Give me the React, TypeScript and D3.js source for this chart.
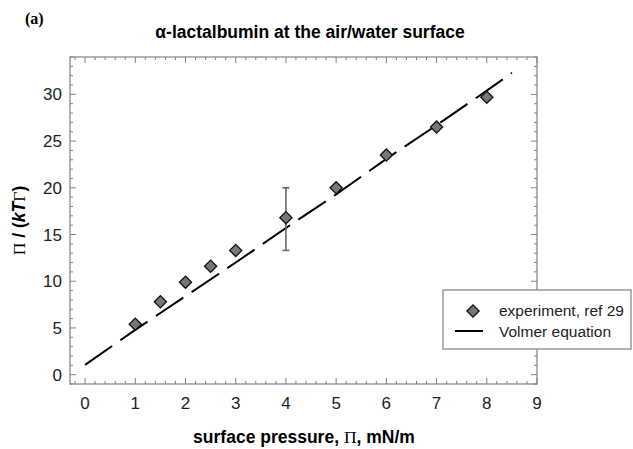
import React from "react";
import * as d3 from "d3";

const expX = [1, 1.5, 2, 2.5, 3, 4, 5, 6, 7, 8];
const expY = [5.4, 7.8, 9.9, 11.6, 13.3, 16.8, 20.0, 23.5, 26.5, 29.7];
const errX = [4];
const errLow = [13.3];
const errHigh = [20.0];
const volX = [0, 1, 2, 3, 4, 5, 6, 7, 8, 8.5];
const volY = [1.05, 4.8, 8.4, 12.0, 15.7, 19.3, 23.1, 26.7, 30.4, 32.3];
const xTicks = [0, 1, 2, 3, 4, 5, 6, 7, 8, 9];
const yTicks = [0, 5, 10, 15, 20, 25, 30];

const W = 633, H = 449;
const L = 70, R = 537, T = 57, B = 384;
const FRAME = "#808080";

export default function App() {
  const x = d3.scaleLinear().domain([-0.3, 9]).range([L, R]);
  const y = d3.scaleLinear().domain([-1, 34]).range([B, T]);

  const xMinor = d3.range(-0.2, 9.001, 0.2).map((v) => Math.round(v * 10) / 10);
  const yMinor = d3.range(-1, 34.001, 1);

  const line = d3
    .line<number>()
    .x((_, i) => x(volX[i]))
    .y((d) => y(d));
  const diamond = d3.symbol(d3.symbolSquare, 74)();

  const isMajorX = (v: number) => Math.abs(v - Math.round(v)) < 1e-6;
  const isMajorY = (v: number) => v % 5 === 0;

  return (
    <svg
      width={W}
      height={H}
      style={{ position: "absolute", left: 0, top: 0, background: "#fff" }}
      fontFamily="'Liberation Sans', Arial, sans-serif"
    >
      <rect x={0} y={0} width={W} height={H} fill="#fff" />
      <text x={25} y={24} fontFamily="'Liberation Serif', serif" fontWeight="bold" fontSize={16}>
        (a)
      </text>
      <text x={310} y={38} textAnchor="middle" fontWeight="bold" fontSize={17.5}>
        α-lactalbumin at the air/water surface
      </text>

      {/* frame */}
      <rect x={L} y={T} width={R - L} height={B - T} fill="none" stroke={FRAME} strokeWidth={1.2} />

      {/* ticks */}
      {xMinor.map((v, i) => {
        const len = isMajorX(v) ? 6 : 3;
        const px = x(v);
        return (
          <g key={"xt" + i} stroke={FRAME} strokeWidth={1}>
            <line x1={px} x2={px} y1={B} y2={B - len} />
            <line x1={px} x2={px} y1={T} y2={T + len} />
          </g>
        );
      })}
      {yMinor.map((v, i) => {
        const len = isMajorY(v) ? 6 : 3;
        const py = y(v);
        return (
          <g key={"yt" + i} stroke={FRAME} strokeWidth={1}>
            <line x1={L} x2={L + len} y1={py} y2={py} />
            <line x1={R} x2={R - len} y1={py} y2={py} />
          </g>
        );
      })}

      {xTicks.map((v) => (
        <text key={"xl" + v} x={x(v)} y={409} textAnchor="middle" fontSize={17} fill="#222">
          {v}
        </text>
      ))}
      {yTicks.map((v) => (
        <text key={"yl" + v} x={62} y={y(v) + 6} textAnchor="end" fontSize={17} fill="#222">
          {v}
        </text>
      ))}

      {/* axis titles */}
      <text x={304} y={443} textAnchor="middle" fontWeight="bold" fontSize={17.5}>
        surface pressure, <tspan fontFamily="'Liberation Serif', serif" fontWeight="normal">Π</tspan>, mN/m
      </text>
      <text
        transform={`translate(25, ${(T + B) / 2}) rotate(-90)`}
        textAnchor="middle"
        fontWeight="bold"
        fontSize={17.5}
      >
        <tspan fontFamily="'Liberation Serif', serif" fontWeight="normal">Π</tspan>
        <tspan> / (</tspan>
        <tspan fontStyle="italic">kT</tspan>
        <tspan fontFamily="'Liberation Serif', serif" fontWeight="normal">Γ</tspan>
        <tspan>)</tspan>
      </text>

      {/* Volmer line */}
      <path
        d={line(volY) || ""}
        fill="none"
        stroke="#000"
        strokeWidth={2}
        strokeDasharray="33 10"
      />

      {/* error bar */}
      {errX.map((v, i) => (
        <g key={"eb" + i} stroke="#666" strokeWidth={1.6}>
          <line x1={x(v)} x2={x(v)} y1={y(errLow[i])} y2={y(errHigh[i])} />
          <line x1={x(v) - 3.5} x2={x(v) + 3.5} y1={y(errLow[i])} y2={y(errLow[i])} />
          <line x1={x(v) - 3.5} x2={x(v) + 3.5} y1={y(errHigh[i])} y2={y(errHigh[i])} />
        </g>
      ))}

      {/* experiment diamonds */}
      {expX.map((v, i) => (
        <path
          key={"d" + i}
          d={diamond || ""}
          transform={`translate(${x(v)},${y(expY[i])}) rotate(45)`}
          fill="#777"
          stroke="#111"
          strokeWidth={1.3}
        />
      ))}

      {/* legend */}
      <g>
        <rect x={443} y={290} width={188} height={59} fill="#fff" stroke={FRAME} strokeWidth={1.2} />
        <path
          d={diamond || ""}
          transform="translate(473,311) rotate(45)"
          fill="#777"
          stroke="#111"
          strokeWidth={1.3}
        />
        <text x={499} y={316} fontSize={15.5} fill="#222">
          experiment, ref 29
        </text>
        <line x1={455} x2={483} y1={331} y2={331} stroke="#000" strokeWidth={2} />
        <text x={499} y={336.5} fontSize={15.5} fill="#222">
          Volmer equation
        </text>
      </g>
    </svg>
  );
}
